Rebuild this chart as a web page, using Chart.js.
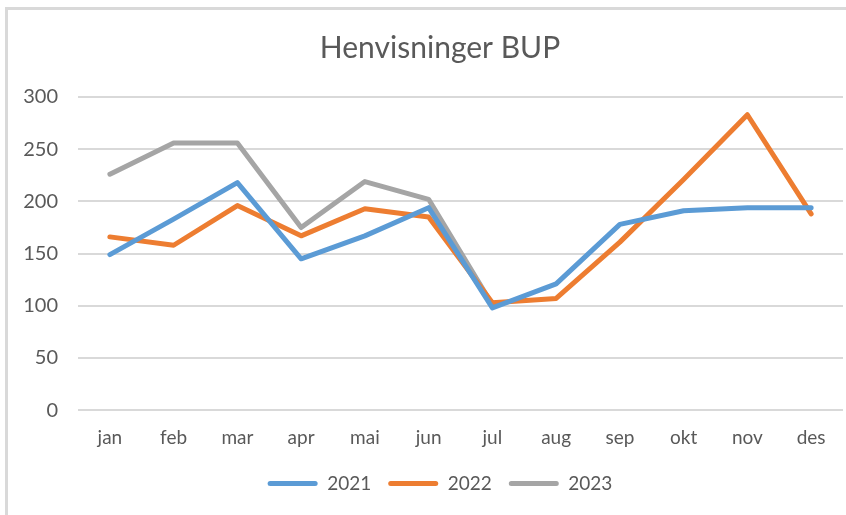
<html>
<head>
<script src="https://cdn.jsdelivr.net/npm/chart.js@4.4.1/dist/chart.umd.min.js"></script>
<style>
body { margin:0; background:#fff; overflow:hidden; }
#wrap { position:absolute; left:0; top:0; width:846px; height:515px; overflow:hidden; }
#bl { position:absolute; left:5px; top:8px; width:3px; height:507px; background:#d9d9d9; }
#bt { position:absolute; left:5px; top:7px; width:841px; height:3px; background:#d9d9d9; }
</style>
</head>
<body>
<div id="wrap"><canvas id="myChart" width="880" height="515"></canvas></div>
<div id="bl"></div><div id="bt"></div>
<script>
var months = ['jan','feb','mar','apr','mai','jun','jul','aug','sep','okt','nov','des'];
var y2021 = [149, 183, 218, 145, 167, 194, 98, 121, 178, 191, 194, 194];
var y2022 = [166, 158, 196, 167, 193, 185, 103, 107, 161, 221, 283, 188];
var y2023 = [226, 256, 256, 175, 219, 202, 101];
var yTicks = [0, 50, 100, 150, 200, 250, 300];

var textCol = '#595959';
Chart.defaults.font.family = 'Lato, "Open Sans", sans-serif';
Chart.defaults.color = textCol;

function ds(label, data, col) {
  return {
    label: label, data: data,
    borderColor: col, backgroundColor: col,
    borderWidth: 5, pointRadius: 0, tension: 0,
    borderJoinStyle: 'round', borderCapStyle: 'round'
  };
}

// original chart is a bit wider than the visible crop; right part is cut off
var ctx = document.getElementById('myChart').getContext('2d');
var myChart = new Chart(ctx, {
  type: 'line',
  data: {
    labels: months,
    datasets: [
      ds('2021', y2021, '#5B9BD5'),
      ds('2022', y2022, '#ED7D31'),
      ds('2023', y2023, '#A5A5A5')
    ]
  },
  options: {
    responsive: false,
    animation: false,
    layout: { padding: { left: 37, right: 37, top: 0, bottom: 12 } },
    plugins: {
      title: {
        display: true, text: 'Henvisninger BUP',
        color: textCol,
        font: { size: 30, weight: 'normal' },
        padding: { top: 30, bottom: 31 }
      },
      legend: {
        position: 'bottom',
        labels: {
          boxWidth: 50, boxHeight: 5, padding: 17,
          font: { size: 19 },
          color: textCol,
          generateLabels: function(chart) {
            var items = Chart.defaults.plugins.legend.labels.generateLabels(chart);
            items.forEach(function(it){ it.lineWidth = 0; it.borderRadius = 2.5; });
            return items;
          },
          useBorderRadius: true
        }
      },
      tooltip: { enabled: false }
    },
    scales: {
      x: {
        offset: true,
        grid: { display: false },
        border: { display: false },
        ticks: { font: { size: 19 }, color: textCol, padding: 8, maxRotation: 0 }
      },
      y: {
        min: 0, max: 300,
        afterFit: function(scale) {
          scale.width = 41;
          // labels stick out left of the narrow axis box, don't clip them
          scale._computeLabelArea = function() { return undefined; };
        },
        afterBuildTicks: function(scale) { scale.ticks = yTicks.map(function(v){ return {value: v}; }); },
        grid: { color: '#d9d9d9', lineWidth: 2, drawTicks: false },
        border: { display: false },
        ticks: { font: { size: 20 }, color: textCol, padding: 20 }
      }
    }
  }
});
</script>
</body>
</html>
